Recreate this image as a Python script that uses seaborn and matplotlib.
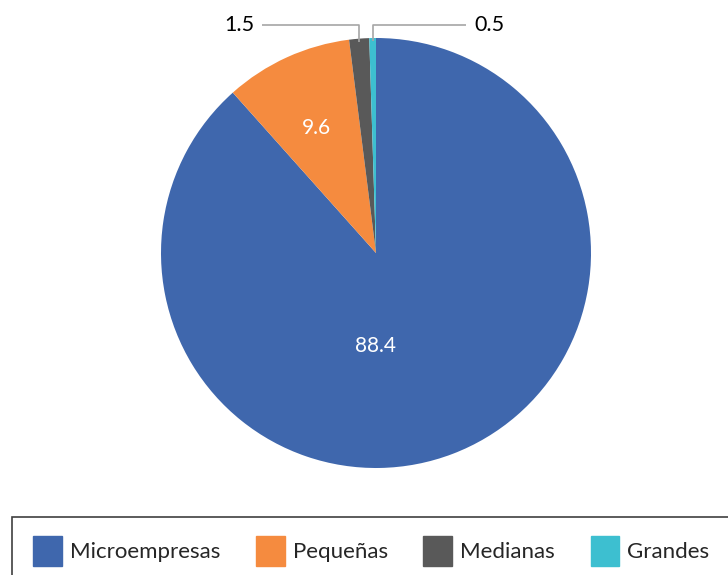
import matplotlib
matplotlib.use("Agg")
import matplotlib.pyplot as plt
from matplotlib.patches import Rectangle
import numpy as np
import seaborn as sns

sns.set_theme(style="white")
plt.rcParams["font.family"] = ["Lato", "DejaVu Sans"]

categories = ["Microempresas", "Pequeñas", "Medianas", "Grandes"]
values = [88.4, 9.6, 1.5, 0.5]
labels = ["88.4", "9.6", "1.5", "0.5"]
colors = ["#3F67AD", "#F58B3F", "#595959", "#3DBFD0"]

W, H = 728, 575
fig = plt.figure(figsize=(W / 100, H / 100), dpi=100)
ax = fig.add_axes([0, 0, 1, 1])

cx, cy, r = 376, H - 253, 215
wedges, _ = ax.pie(values, colors=colors, startangle=90, counterclock=False,
                   center=(cx, cy), radius=r, frame=True,
                   wedgeprops=dict(linewidth=0))
ax.set_xlim(0, W)
ax.set_ylim(0, H)
ax.set_aspect("equal")
ax.axis("off")

# inside labels for the two large slices
ax.text(cx, cy - 93, labels[0], color="white", fontsize=15, ha="center", va="center")
ax.text(cx - 60, cy + 125, labels[1], color="white", fontsize=15,
        ha="center", va="center")

# leader lines for the two thin slices
line_y = H - 25
for i, (tx, ha, xend) in {2: (254, "right", 262), 3: (474, "left", 466)}.items():
    w = wedges[i]
    mid = np.deg2rad((w.theta1 + w.theta2) / 2)
    ex = cx + r * np.cos(mid)
    ey = cy + r * np.sin(mid)
    ax.plot([ex, ex, xend], [ey - 3, line_y, line_y], color="#A6A6A6", lw=1.2,
            solid_capstyle="butt")
    ax.text(tx, line_y, labels[i], color="black", fontsize=15.5, ha=ha, va="center")

# legend frame
fig.patches.append(Rectangle((12 / W, -0.02), 1.0, (H - 517) / H + 0.02,
                             transform=fig.transFigure, fill=False,
                             edgecolor="#404040", lw=1.2))
handles = [Rectangle((0, 0), 1, 1, color=c) for c in colors]
leg = fig.legend(handles, categories, ncol=4, frameon=False, fontsize=16,
                 loc="center left", bbox_to_anchor=(33 / W, 1 - 551 / H),
                 handlelength=1.3, handleheight=1.65, handletextpad=0.36,
                 columnspacing=1.6, borderaxespad=0, borderpad=0)

fig.savefig("out.png", dpi=100)
